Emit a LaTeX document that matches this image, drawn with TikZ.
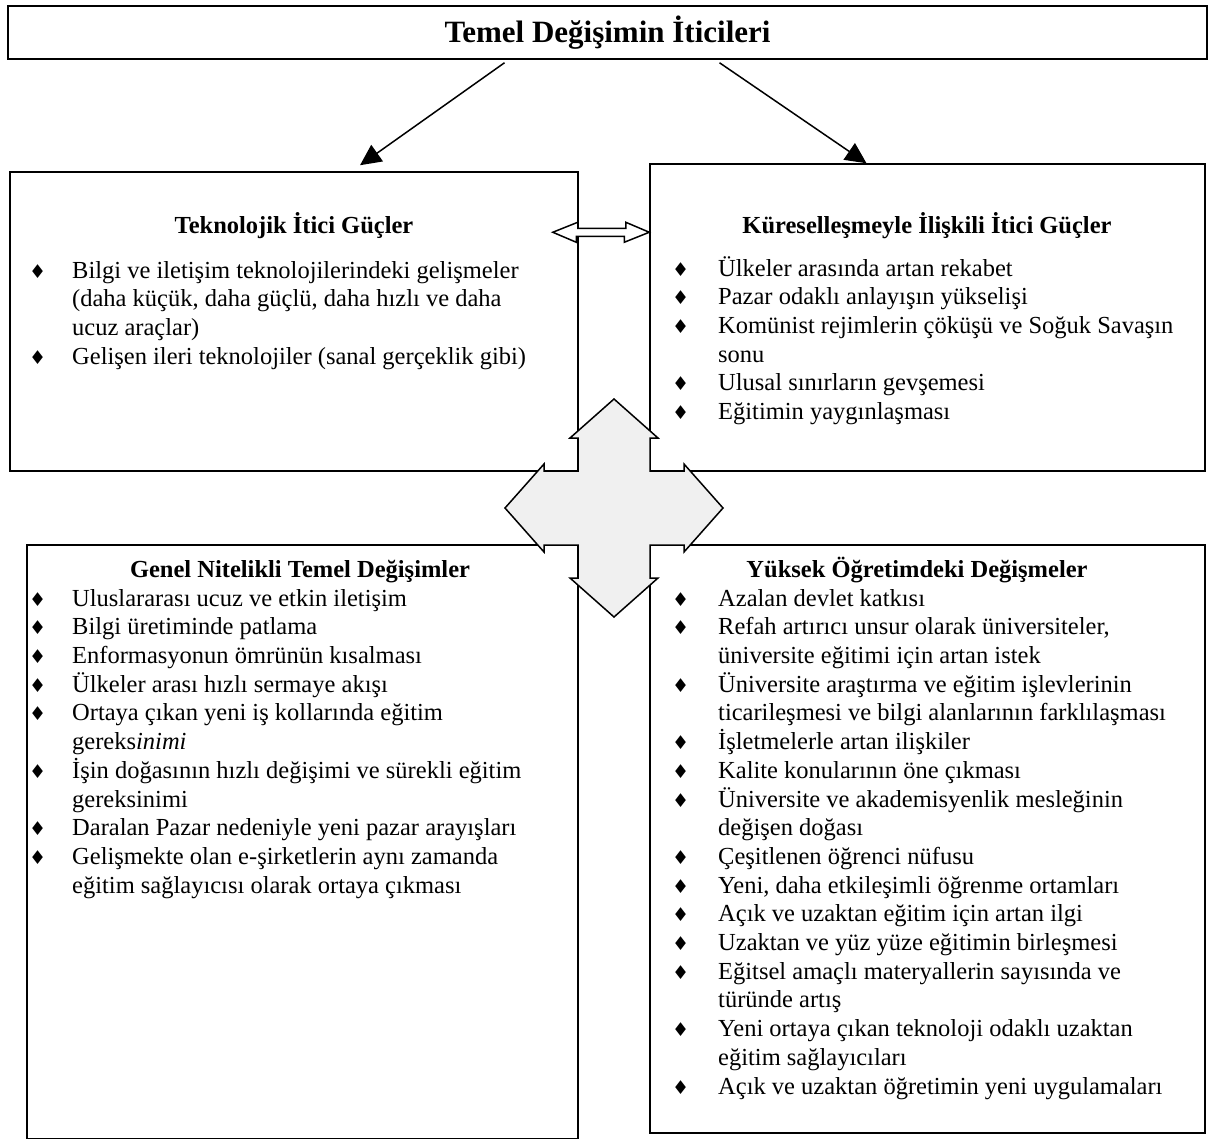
\documentclass[tikz,border=0pt]{standalone}
\usepackage{fontspec}
\setmainfont{Liberation Serif}
\newfontfamily\simgefont{DejaVu Sans}
\usetikzlibrary{arrows.meta,calc,positioning}
\newcommand{\mad}{{\simgefont\fontsize{19}{19}\selectfont ♦}}

\begin{document}
\begin{tikzpicture}[x=1pt,y=-1pt,
    kutu/.style={draw,line width=1.5pt,inner sep=0pt},
    yazi/.style={inner sep=0pt,font=\fontsize{24.5}{28.7}\selectfont},
    baslikyazi/.style={yazi,font=\fontsize{24.5}{28.7}\selectfont\bfseries},
    ok/.style={line width=1.5pt,-{Triangle[length=21pt,width=20pt]}},
    cift/.style={draw,line width=1.5pt,fill=white,line join=miter},
    kesisim/.style={draw,line width=1.5pt,fill=black!6,line join=miter}]
      \useasboundingbox (0,0) rectangle (1214,1138);
      % kutular
      \node[kutu,minimum width=1199pt,minimum height=53pt,font=\fontsize{31}{34}\selectfont\bfseries] (baslik) at (607.5,32.5) {Temel Değişimin İticileri};
      \node[kutu,minimum width=568pt,minimum height=299pt] (tek) at (294,321.5) {};
      \node[kutu,minimum width=555pt,minimum height=307pt] (kur) at (927.5,317.5) {};
      \node[kutu,minimum width=551pt,minimum height=594pt] (genel) at (302.5,842) {};
      \node[kutu,minimum width=555pt,minimum height=588pt] (yuksek) at (927.5,839) {};
      % basliktan inen oklar
      \coordinate (tek-uc) at ($(tek.north)+(66,-6)$);
      \coordinate (kur-uc) at ($(kur.north)+(-61,0)$);
      \draw[ok] ([xshift=-103pt,yshift=-3pt]baslik.south) -- (tek-uc);
      \draw[ok] ([xshift=112pt,yshift=-3pt]baslik.south) -- (kur-uc);
      % iki yonlu ok
      \coordinate (cift-sol) at ($(tek.north east)+(-26,61)$);
      \coordinate (cift-sag) at (kur.west |- cift-sol);
      \draw[cift] (cift-sol) -- ++(25,-10) -- ++(0,6) -- ++(48,0) -- ++(0,-6) -- (cift-sag)
                 -- ++(-25,10) -- ++(0,-6) -- ++(-48,0) -- ++(0,6) -- cycle;
      % dort yonlu ok
      \begin{scope}[shift={(614,508)}]
        \draw[kesisim] (0,-109) -- (44,-70) -- (36,-70) -- (36,-37) -- (70,-37) -- (70,-44)
              -- (109,0) -- (70,44) -- (70,37) -- (36,37) -- (36,70) -- (44,70) -- (0,109)
              -- (-44,70) -- (-36,70) -- (-36,37) -- (-70,37) -- (-70,44) -- (-109,0)
              -- (-70,-44) -- (-70,-37) -- (-36,-37) -- (-36,-70) -- (-44,-70) -- cycle;
      \end{scope}
      % basliklar
      \node[baslikyazi,anchor=base] (tek-b) at (294,233) {Teknolojik İtici Güçler};
      \node[baslikyazi,anchor=base] (kur-b) at (927,233) {Küreselleşmeyle İlişkili İtici Güçler};
      \node[baslikyazi,anchor=base] (genel-b) at (300,577) {Genel Nitelikli Temel Değişimler};
      \node[baslikyazi,anchor=base] (yuksek-b) at (917,577) {Yüksek Öğretimdeki Değişmeler};
      % maddeler
      \node[yazi,anchor=base west] (tek-l) at (29,278) {\begin{tabular}[t]{@{}p{43pt}@{}l@{}}
        \mad & Bilgi ve iletişim teknolojilerindeki gelişmeler\\
             & (daha küçük, daha güçlü, daha hızlı ve daha\\
             & ucuz araçlar)\\
        \mad & Gelişen ileri teknolojiler (sanal gerçeklik gibi)
      \end{tabular}};
      \node[yazi,anchor=base west] (kur-l) at (672,276) {\begin{tabular}[t]{@{}p{46pt}@{}l@{}}
        \mad & Ülkeler arasında artan rekabet\\
        \mad & Pazar odaklı anlayışın yükselişi\\
        \mad & Komünist rejimlerin çöküşü ve Soğuk Savaşın\\
             & sonu\\
        \mad & Ulusal sınırların gevşemesi\\
        \mad & Eğitimin yaygınlaşması
      \end{tabular}};
      \node[yazi,anchor=base west] (genel-l) at (29,606) {\begin{tabular}[t]{@{}p{43pt}@{}l@{}}
        \mad & Uluslararası ucuz ve etkin iletişim\\
        \mad & Bilgi üretiminde patlama\\
        \mad & Enformasyonun ömrünün kısalması\\
        \mad & Ülkeler arası hızlı sermaye akışı\\
        \mad & Ortaya çıkan yeni iş kollarında eğitim\\
             & gereks\textit{inimi}\\
        \mad & İşin doğasının hızlı değişimi ve sürekli eğitim\\
             & gereksinimi\\
        \mad & Daralan Pazar nedeniyle yeni pazar arayışları\\
        \mad & Gelişmekte olan e-şirketlerin aynı zamanda\\
             & eğitim sağlayıcısı olarak ortaya çıkması
      \end{tabular}};
      \node[yazi,anchor=base west] (yuksek-l) at (672,606) {\begin{tabular}[t]{@{}p{46pt}@{}l@{}}
        \mad & Azalan devlet katkısı\\
        \mad & Refah artırıcı unsur olarak üniversiteler,\\
             & üniversite eğitimi için artan istek\\
        \mad & Üniversite araştırma ve eğitim işlevlerinin\\
             & ticarileşmesi ve bilgi alanlarının farklılaşması\\
        \mad & İşletmelerle artan ilişkiler\\
        \mad & Kalite konularının öne çıkması\\
        \mad & Üniversite ve akademisyenlik mesleğinin\\
             & değişen doğası\\
        \mad & Çeşitlenen öğrenci nüfusu\\
        \mad & Yeni, daha etkileşimli öğrenme ortamları\\
        \mad & Açık ve uzaktan eğitim için artan ilgi\\
        \mad & Uzaktan ve yüz yüze eğitimin birleşmesi\\
        \mad & Eğitsel amaçlı materyallerin sayısında ve\\
             & türünde artış\\
        \mad & Yeni ortaya çıkan teknoloji odaklı uzaktan\\
             & eğitim sağlayıcıları\\
        \mad & Açık ve uzaktan öğretimin yeni uygulamaları
      \end{tabular}};
    \end{tikzpicture}
\end{document}
